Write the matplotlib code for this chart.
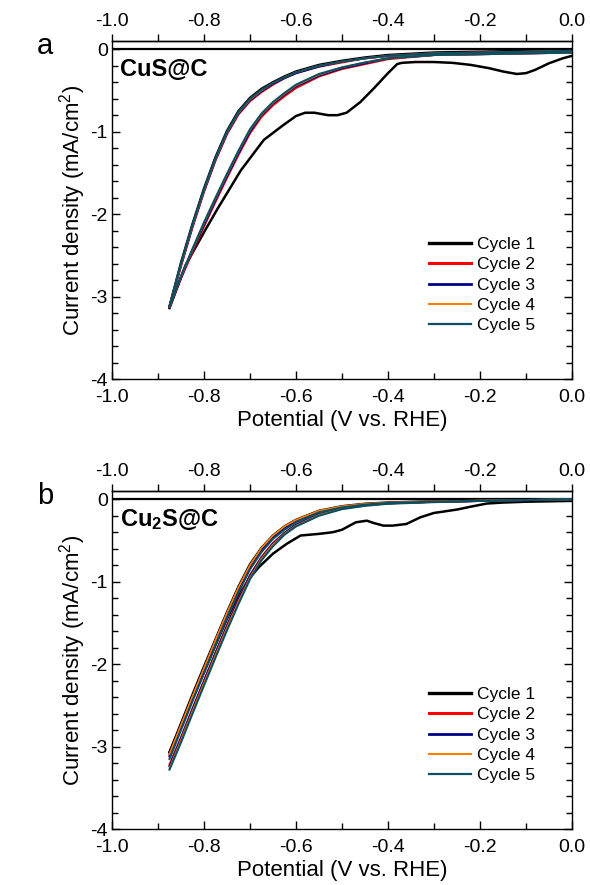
import matplotlib
matplotlib.use('Agg')
import matplotlib.pyplot as plt
from matplotlib.ticker import MultipleLocator
from matplotlib.lines import Line2D

plt.rcParams['font.family'] = ['Liberation Sans', 'DejaVu Sans']
plt.rcParams['mathtext.fontset'] = 'custom'
plt.rcParams['mathtext.rm'] = 'Liberation Sans'
plt.rcParams['mathtext.it'] = 'Liberation Sans:italic'
plt.rcParams['mathtext.bf'] = 'Liberation Sans:bold'

# ---------------- data ----------------
cycle_labels = ['Cycle 1', 'Cycle 2', 'Cycle 3', 'Cycle 4', 'Cycle 5']
cycle_colors = ['#000000', '#ff0000', '#00008b', '#ff7f00', '#0c5060']
cycle_widths = [1.8, 1.5, 1.5, 1.2, 1.5]

# common potential grid (V vs. RHE)
V_grid = [0.0, -0.1, -0.2, -0.3, -0.4, -0.45, -0.5, -0.55, -0.6, -0.625,
          -0.65, -0.675, -0.7, -0.725, -0.75, -0.775, -0.8, -0.825, -0.85, -0.875]

# ---- panel a: CuS@C ----
a_c1_fwd_V = [0.0, -0.02, -0.05, -0.08, -0.10, -0.12, -0.15, -0.18, -0.22, -0.26,
              -0.30, -0.34, -0.37, -0.38, -0.40, -0.43, -0.46, -0.49, -0.51, -0.53,
              -0.56, -0.58, -0.60, -0.63, -0.67, -0.72, -0.77, -0.80, -0.84, -0.875]
a_c1_fwd_j = [-0.08, -0.11, -0.17, -0.25, -0.29, -0.30, -0.27, -0.23, -0.19, -0.165,
              -0.155, -0.155, -0.165, -0.18, -0.29, -0.47, -0.64, -0.77, -0.80, -0.80,
              -0.77, -0.77, -0.81, -0.93, -1.10, -1.47, -1.93, -2.22, -2.62, -3.14]
a_c1_rev = [-0.01, -0.02, -0.03, -0.04, -0.07, -0.10, -0.14, -0.19, -0.27, -0.33,
            -0.40, -0.48, -0.59, -0.75, -0.99, -1.31, -1.69, -2.12, -2.59, -3.12]
a_c2_fwd = [-0.04, -0.05, -0.06, -0.07, -0.12, -0.18, -0.24, -0.33, -0.47, -0.57,
            -0.68, -0.82, -1.02, -1.28, -1.56, -1.85, -2.15, -2.46, -2.78, -3.12]
a_c2_rev = [-0.02, -0.03, -0.04, -0.05, -0.08, -0.11, -0.16, -0.21, -0.29, -0.35,
            -0.43, -0.52, -0.63, -0.79, -1.03, -1.35, -1.73, -2.16, -2.63, -3.13]
a_c3_fwd = [-0.04, -0.05, -0.06, -0.07, -0.11, -0.17, -0.23, -0.32, -0.45, -0.55,
            -0.66, -0.80, -1.00, -1.26, -1.54, -1.83, -2.13, -2.44, -2.77, -3.12]
a_c3_rev = [-0.02, -0.03, -0.04, -0.05, -0.08, -0.11, -0.15, -0.21, -0.29, -0.35,
            -0.42, -0.51, -0.62, -0.78, -1.02, -1.34, -1.72, -2.15, -2.62, -3.12]
a_c4_fwd = [-0.04, -0.05, -0.06, -0.07, -0.11, -0.16, -0.22, -0.31, -0.44, -0.54,
            -0.65, -0.79, -0.98, -1.24, -1.52, -1.81, -2.11, -2.43, -2.76, -3.12]
a_c4_rev = [-0.02, -0.03, -0.04, -0.05, -0.08, -0.11, -0.15, -0.20, -0.28, -0.34,
            -0.41, -0.50, -0.61, -0.77, -1.01, -1.33, -1.71, -2.14, -2.61, -3.12]
a_c5_fwd = [-0.04, -0.05, -0.06, -0.07, -0.11, -0.16, -0.22, -0.30, -0.43, -0.53,
            -0.64, -0.78, -0.97, -1.23, -1.51, -1.80, -2.10, -2.42, -2.75, -3.12]
a_c5_rev = [-0.02, -0.03, -0.04, -0.05, -0.08, -0.11, -0.15, -0.20, -0.28, -0.34,
            -0.41, -0.49, -0.60, -0.76, -1.00, -1.32, -1.70, -2.13, -2.60, -3.12]

# ---- panel b: Cu2S@C ----
b_c1_fwd_V = [0.0, -0.05, -0.10, -0.15, -0.185, -0.22, -0.25, -0.28, -0.30, -0.33,
              -0.36, -0.39, -0.41, -0.43, -0.446, -0.47, -0.50, -0.52, -0.55, -0.59,
              -0.62, -0.65, -0.68, -0.70, -0.725, -0.75, -0.775, -0.80, -0.825, -0.85, -0.875]
b_c1_fwd_j = [-0.02, -0.025, -0.03, -0.04, -0.052, -0.09, -0.125, -0.15, -0.166, -0.22,
              -0.30, -0.32, -0.32, -0.29, -0.26, -0.28, -0.37, -0.40, -0.42, -0.44,
              -0.54, -0.66, -0.82, -0.95, -1.17, -1.45, -1.77, -2.10, -2.42, -2.74, -3.07]
b_c1_rev = [0.0, -0.01, -0.015, -0.025, -0.04, -0.055, -0.085, -0.14, -0.25, -0.33,
            -0.44, -0.59, -0.79, -1.06, -1.37, -1.70, -2.03, -2.37, -2.72, -3.07]
b_c2_fwd = [0.0, -0.01, -0.02, -0.03, -0.045, -0.06, -0.09, -0.145, -0.26, -0.34,
            -0.45, -0.60, -0.81, -1.08, -1.39, -1.72, -2.06, -2.40, -2.75, -3.10]
b_c2_rev = [0.0, -0.01, -0.02, -0.03, -0.05, -0.07, -0.11, -0.18, -0.31, -0.41,
            -0.53, -0.70, -0.92, -1.21, -1.53, -1.86, -2.20, -2.54, -2.89, -3.22]
b_c3_fwd = [0.0, -0.01, -0.02, -0.03, -0.045, -0.06, -0.09, -0.15, -0.27, -0.35,
            -0.46, -0.62, -0.83, -1.10, -1.41, -1.74, -2.08, -2.42, -2.77, -3.12]
b_c3_rev = [0.0, -0.01, -0.02, -0.03, -0.05, -0.07, -0.11, -0.18, -0.31, -0.41,
            -0.54, -0.71, -0.93, -1.22, -1.54, -1.87, -2.21, -2.55, -2.90, -3.24]
b_c4_fwd = [0.0, -0.01, -0.015, -0.025, -0.04, -0.055, -0.085, -0.14, -0.25, -0.33,
            -0.44, -0.59, -0.80, -1.07, -1.38, -1.71, -2.05, -2.39, -2.74, -3.09]
b_c4_rev = [0.0, -0.01, -0.02, -0.035, -0.05, -0.075, -0.115, -0.19, -0.32, -0.42,
            -0.55, -0.72, -0.95, -1.24, -1.56, -1.89, -2.23, -2.57, -2.92, -3.26]
b_c5_fwd = [0.0, -0.01, -0.02, -0.03, -0.045, -0.065, -0.10, -0.16, -0.28, -0.37,
            -0.48, -0.64, -0.85, -1.13, -1.44, -1.77, -2.11, -2.45, -2.80, -3.15]
b_c5_rev = [0.0, -0.01, -0.02, -0.035, -0.055, -0.08, -0.12, -0.20, -0.33, -0.43,
            -0.57, -0.74, -0.97, -1.27, -1.59, -1.92, -2.26, -2.60, -2.95, -3.28]

x_ticks = [-1.0, -0.8, -0.6, -0.4, -0.2, 0.0]
x_tick_labels = ['-1.0', '-0.8', '-0.6', '-0.4', '-0.2', '0.0']
y_ticks = [0, -1, -2, -3, -4]
y_tick_labels = ['0', '-1', '-2', '-3', '-4']

panels = [
    dict(letter='a', name='CuS@C',
         c1_fwd=(a_c1_fwd_V, a_c1_fwd_j),
         fwd=[a_c2_fwd, a_c3_fwd, a_c4_fwd, a_c5_fwd],
         rev=[a_c1_rev, a_c2_rev, a_c3_rev, a_c4_rev, a_c5_rev]),
    dict(letter='b', name=r'Cu$_\mathbf{2}$S@C',
         c1_fwd=(b_c1_fwd_V, b_c1_fwd_j),
         fwd=[b_c2_fwd, b_c3_fwd, b_c4_fwd, b_c5_fwd],
         rev=[b_c1_rev, b_c2_rev, b_c3_rev, b_c4_rev, b_c5_rev]),
]

# ---------------- figure ----------------
W, H = 590, 885
fig = plt.figure(figsize=(W / 100, H / 100), dpi=100)
ax_left, ax_w, ax_h = 112, 460, 338
tops = [41, 491]

TICK_FS = 14
LABEL_FS = 16

for p, top in zip(panels, tops):
    ax = fig.add_axes([ax_left / W, 1 - (top + ax_h) / H, ax_w / W, ax_h / H])
    ax.axhline(0, color='black', lw=1.6, zorder=1)

    # cycle 1
    ax.plot(p['c1_fwd'][0], p['c1_fwd'][1], color=cycle_colors[0], lw=cycle_widths[0], zorder=3)
    ax.plot(V_grid, p['rev'][0], color=cycle_colors[0], lw=cycle_widths[0], zorder=3)
    # cycles 2-5
    for k in range(1, 5):
        ax.plot(V_grid, p['fwd'][k - 1], color=cycle_colors[k], lw=cycle_widths[k], zorder=3 + k)
        ax.plot(V_grid, p['rev'][k], color=cycle_colors[k], lw=cycle_widths[k], zorder=3 + k)

    ax.set_xlim(-1.0, 0.0)
    ax.set_ylim(-4.0, 0.1)
    ax.set_xticks(x_ticks)
    ax.set_xticklabels(x_tick_labels)
    ax.set_yticks(y_ticks)
    ax.set_yticklabels(y_tick_labels)
    ax.xaxis.set_minor_locator(MultipleLocator(0.1))
    ax.yaxis.set_minor_locator(MultipleLocator(0.2))
    ax.tick_params(axis='both', which='both', direction='in', right=True, top=False,
                   labelsize=TICK_FS, width=1.0, color='black')
    ax.tick_params(axis='both', which='major', length=6)
    ax.tick_params(axis='both', which='minor', length=4)
    ax.tick_params(axis='x', pad=7)
    ax.tick_params(axis='y', pad=3)
    for s in ax.spines.values():
        s.set_linewidth(1.0)

    sec = ax.secondary_xaxis('top')
    sec.set_xticks(x_ticks)
    sec.set_xticklabels(x_tick_labels)
    sec.xaxis.set_minor_locator(MultipleLocator(0.1))
    sec.tick_params(axis='x', which='both', direction='out', labelsize=TICK_FS, width=1.0, pad=3)
    sec.tick_params(axis='x', which='major', length=5)
    sec.tick_params(axis='x', which='minor', length=5)
    sec.spines['top'].set_linewidth(1.0)

    ax.set_xlabel('Potential (V vs. RHE)', fontsize=LABEL_FS, labelpad=3)
    ax.set_ylabel('Current density (mA/cm$^2$)', fontsize=LABEL_FS, labelpad=2)

    ax.text(0.017, 0.915, p['name'], transform=ax.transAxes, fontsize=17,
            fontweight='bold', ha='left', va='center')
    fig.text(45 / W, 1 - (top + 5) / H, p['letter'], fontsize=21, ha='center', va='center')

    handles = [Line2D([], [], color=c, lw=w) for c, w in
               zip(cycle_colors, [2.4, 2.2, 2.0, 1.5, 1.6])]
    ax.legend(handles, cycle_labels, loc='upper left', bbox_to_anchor=(0.689, 0.421),
              frameon=False, fontsize=12.5, handlelength=2.4, handletextpad=0.35,
              labelspacing=0.3, borderpad=0, borderaxespad=0)

fig.savefig('out.png', dpi=100)
